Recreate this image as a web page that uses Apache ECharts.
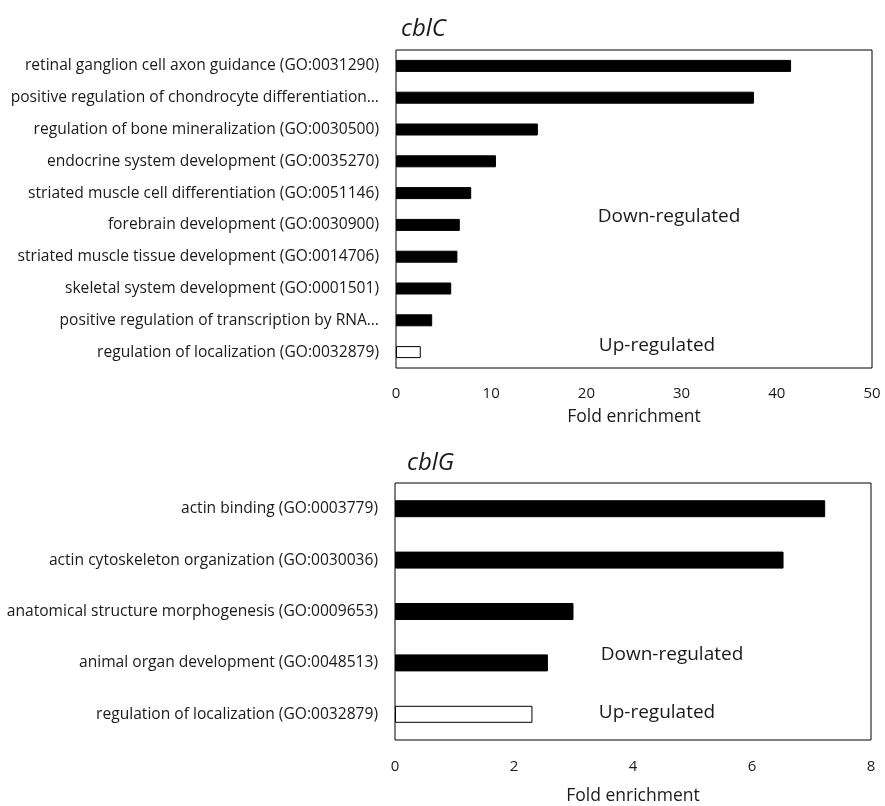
<!DOCTYPE html>
<html>
<head>
<meta charset="utf-8">
<script src="https://cdn.jsdelivr.net/npm/echarts@6/dist/echarts.min.js"></script>
<style>html,body{margin:0;padding:0;background:#fff}#c{width:885px;height:806px}</style>
</head>
<body>
<div id="c"></div>
<script>
// ---- data ----
const cblCTerms = [
  'retinal ganglion cell axon guidance (GO:0031290)',
  'positive regulation of chondrocyte differentiation…',
  'regulation of bone mineralization (GO:0030500)',
  'endocrine system development (GO:0035270)',
  'striated muscle cell differentiation (GO:0051146)',
  'forebrain development (GO:0030900)',
  'striated muscle tissue development (GO:0014706)',
  'skeletal system development (GO:0001501)',
  'positive regulation of transcription by RNA…',
  'regulation of localization (GO:0032879)'
];
const cblCFold = [41.5, 37.6, 14.9, 10.5, 7.9, 6.7, 6.45, 5.8, 3.8, 2.6];
const cblCDirection = ['down','down','down','down','down','down','down','down','down','up'];
const cblCTicks = [0, 10, 20, 30, 40, 50];

const cblGTerms = [
  'actin binding (GO:0003779)',
  'actin cytoskeleton organization (GO:0030036)',
  'anatomical structure morphogenesis (GO:0009653)',
  'animal organ development (GO:0048513)',
  'regulation of localization (GO:0032879)'
];
const cblGFold = [7.23, 6.53, 3.0, 2.57, 2.31];
const cblGDirection = ['down','down','down','down','up'];
const cblGTicks = [0, 2, 4, 6, 8];

// ---- chart ----
const FONT = '"Open Sans", Lato, sans-serif';
const TXT = '#1a1a1a';
function items(vals, dirs) {
  return vals.map((v, i) => ({
    value: v,
    itemStyle: dirs[i] === 'up'
      ? { color: '#ffffff', borderColor: '#000', borderWidth: 1 }
      : { color: '#000000', borderColor: '#000', borderWidth: 1 }
  }));
}
const chart = echarts.init(document.getElementById('c'), null, { renderer: 'canvas' });
function xAxisOf(grid, ticks, labelMargin, nameGap) {
  return {
    type: 'value',
    gridIndex: grid,
    min: ticks[0],
    max: ticks[ticks.length - 1],
    interval: ticks[1] - ticks[0],
    name: 'Fold enrichment',
    nameLocation: 'middle',
    nameGap: nameGap,
    axisLine: { show: false },
    axisTick: { show: false },
    splitLine: { show: false },
    axisLabel: { color: TXT, fontFamily: FONT, fontSize: 15, margin: labelMargin },
    nameTextStyle: { color: TXT, fontFamily: FONT, fontSize: 17.5 }
  };
}
function yAxisOf(grid, terms) {
  return {
    type: 'category',
    gridIndex: grid,
    data: terms,
    inverse: true,
    axisLine: { show: false },
    axisTick: { show: false },
    splitLine: { show: false },
    axisLabel: { color: TXT, fontFamily: FONT, fontSize: 15.6, margin: 17 }
  };
}
chart.setOption({
  backgroundColor: '#fff',
  animation: false,
  grid: [
    { left: 396, right: 13, top: 50, height: 318, show: true, borderColor: '#000', borderWidth: 1, backgroundColor: 'transparent' },
    { left: 395, right: 14, top: 483, height: 258, show: true, borderColor: '#000', borderWidth: 1, backgroundColor: 'transparent' }
  ],
  xAxis: [
    xAxisOf(0, cblCTicks, 18, 40),
    xAxisOf(1, cblGTicks, 19, 47)
  ],
  yAxis: [
    yAxisOf(0, cblCTerms),
    yAxisOf(1, cblGTerms)
  ],
  series: [
    { type: 'bar', xAxisIndex: 0, yAxisIndex: 0, barWidth: 12, data: items(cblCFold, cblCDirection) },
    { type: 'bar', xAxisIndex: 1, yAxisIndex: 1, barWidth: 17, data: items(cblGFold, cblGDirection) }
  ],
  graphic: [
    { type: 'text', left: 401, top: 17, style: { text: 'cblC', fontStyle: 'italic', fontSize: 24, fontFamily: FONT, fill: TXT } },
    { type: 'text', left: 407, top: 451, style: { text: 'cblG', fontStyle: 'italic', fontSize: 24, fontFamily: FONT, fill: TXT } },
    { type: 'text', x: 669, y: 217, style: { text: 'Down-regulated', fontSize: 19, fontFamily: FONT, fill: TXT, align: 'center', verticalAlign: 'middle' } },
    { type: 'text', x: 657, y: 346, style: { text: 'Up-regulated', fontSize: 19, fontFamily: FONT, fill: TXT, align: 'center', verticalAlign: 'middle' } },
    { type: 'text', x: 672, y: 655, style: { text: 'Down-regulated', fontSize: 19, fontFamily: FONT, fill: TXT, align: 'center', verticalAlign: 'middle' } },
    { type: 'text', x: 657, y: 713, style: { text: 'Up-regulated', fontSize: 19, fontFamily: FONT, fill: TXT, align: 'center', verticalAlign: 'middle' } }
  ]
});
</script>
</body>
</html>
